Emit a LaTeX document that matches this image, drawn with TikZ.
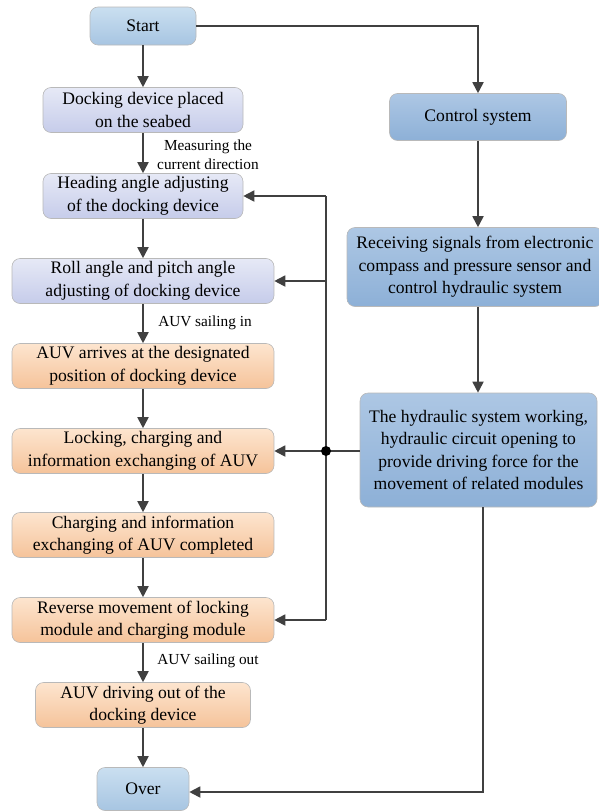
\documentclass[tikz,border=0pt]{standalone}
\usepackage{fontspec}
\setmainfont{Liberation Serif}
\usetikzlibrary{arrows.meta}
\definecolor{lavT}{HTML}{E6E9F6}
\definecolor{lavB}{HTML}{C6CCEA}
\definecolor{orT}{HTML}{FDE5CF}
\definecolor{orB}{HTML}{F5C39A}
\definecolor{sbT}{HTML}{CADFF0}
\definecolor{sbB}{HTML}{A7C5E2}
\definecolor{cbT}{HTML}{ADC7E4}
\definecolor{cbB}{HTML}{8DB0D7}
\definecolor{ln}{HTML}{404040}
\tikzset{
  box/.style={draw=gray!55, line width=0.6pt, rounded corners=8pt, align=center, inner sep=1pt, font=\fontsize{17.6}{22.5}\selectfont, shading=axis, shading angle=0},
  lav/.style={box, top color=lavT, bottom color=lavB},
  ora/.style={box, top color=orT, bottom color=orB},
  sb/.style={box, top color=sbT, bottom color=sbB},
  cb/.style={box, top color=cbT, bottom color=cbB},
  arr/.style={draw=ln, line width=1.8pt, -{Triangle[length=11pt,width=11pt]}},
  ln/.style={draw=ln, line width=1.8pt},
  lbl/.style={font=\fontsize{15.3}{18.5}\selectfont, align=center, inner sep=0pt}
}
\begin{document}
\begin{tikzpicture}[x=1pt,y=-1pt]
\useasboundingbox (0,0) rectangle (598,811);
\node[sb, minimum width=106pt, minimum height=38pt] (start) at (143,26) {Start};
\node[lav, minimum width=200pt, minimum height=45pt] (dock) at (143,110) {Docking device placed\\on the seabed};
\node[lav, minimum width=200pt, minimum height=45pt] (head) at (143,196) {Heading angle adjusting\\of the docking device};
\node[lav, minimum width=262pt, minimum height=45pt] (roll) at (143,281) {Roll angle and pitch angle\\adjusting of docking device};
\node[ora, minimum width=262pt, minimum height=45pt] (arr) at (143,366) {AUV arrives at the designated\\position of docking device};
\node[ora, minimum width=262pt, minimum height=45pt] (lock) at (143,451) {Locking, charging and\\information exchanging of AUV};
\node[ora, minimum width=262pt, minimum height=45pt] (done) at (143,535) {Charging and information\\exchanging of AUV completed};
\node[ora, minimum width=262pt, minimum height=45pt] (rev) at (143,620) {Reverse movement of locking\\module and charging module};
\node[ora, minimum width=215pt, minimum height=45pt] (out) at (143,705) {AUV driving out of the\\docking device};
\node[sb, minimum width=92pt, minimum height=43pt] (over) at (143,789) {Over};

\node[cb, minimum width=177pt, minimum height=47pt] (ctrl) at (478,117) {Control system};
\node[cb, minimum width=256pt, minimum height=79pt] (recv) at (475,267) {Receiving signals from electronic\\compass and pressure sensor and\\control hydraulic system};
\node[cb, minimum width=237pt, minimum height=114pt] (hyd) at (478.5,450) {The hydraulic system working,\\hydraulic circuit opening to\\provide driving force for the\\movement of related modules};

\node[lbl] (l1) at (208,155) {Measuring the\\current direction};
\node[lbl] (l2) at (205,323) {AUV sailing in};
\node[lbl] (l3) at (208,661) {AUV sailing out};

\draw[arr] (start) -- (dock);
\draw[arr] (dock) -- (head);
\draw[arr] (head) -- (roll);
\draw[arr] (roll) -- (arr);
\draw[arr] (arr) -- (lock);
\draw[arr] (lock) -- (done);
\draw[arr] (done) -- (rev);
\draw[arr] (rev) -- (out);
\draw[arr] (out) -- (over);

\draw[arr] (start.east) -| (ctrl.north);
\draw[arr] (ctrl.south) -- (ctrl.south |- recv.north);
\draw[arr] (ctrl.south |- recv.south) -- (ctrl.south |- hyd.north);

\coordinate (dot) at (326,451);
\coordinate (vt) at (326,196);
\coordinate (vb) at (326,620);
\draw[ln] (hyd.west |- dot) -- (dot);
\draw[arr] (dot) -- (lock.east);
\draw[ln] (vt) -- (vb);
\draw[arr] (vt) -- (head.east);
\draw[arr] (vt |- roll.east) -- (roll.east);
\draw[arr] (vb) -- (rev.east);
\fill[black] (dot) circle (5pt);

\coordinate (hb) at (483,792);
\draw[arr] (hb |- hyd.south) -- (hb) -- (over.east |- hb);
\end{tikzpicture}
\end{document}
